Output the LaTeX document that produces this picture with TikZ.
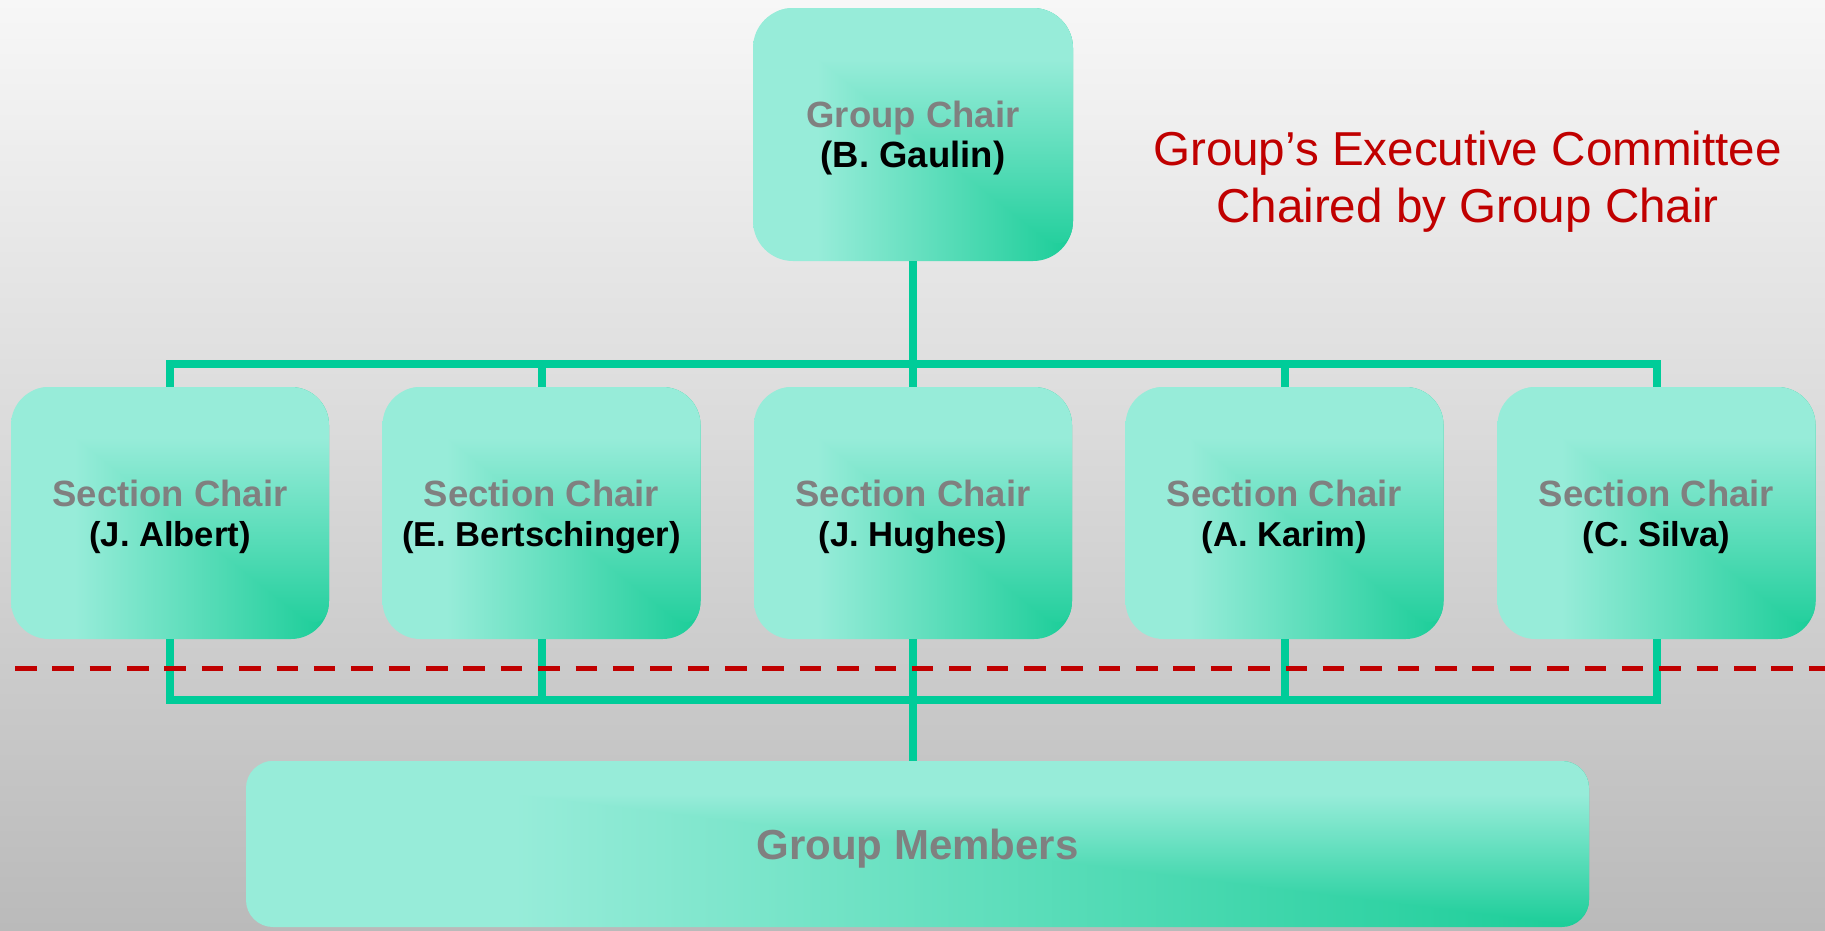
\documentclass[tikz,border=0pt]{standalone}
\usepackage{fontspec}
\setmainfont{Liberation Sans}
\definecolor{mintlight}{HTML}{97ECD9}
\definecolor{mintdark}{HTML}{1ACD98}
\definecolor{conngreen}{HTML}{00CC99}
\definecolor{redtxt}{HTML}{C00000}
\definecolor{graytxt}{HTML}{808080}
\definecolor{bgtop}{HTML}{F7F7F7}
\definecolor{bgbot}{HTML}{BABABA}
\pgfdeclarehorizontalshading{mintH}{100bp}{color(0bp)=(mintlight); color(35bp)=(mintlight); color(75bp)=(mintdark); color(100bp)=(mintdark)}
\pgfdeclareverticalshading{mintV}{100bp}{color(0bp)=(mintdark); color(25bp)=(mintdark); color(65bp)=(mintlight); color(100bp)=(mintlight)}
\newcommand{\secname}[1]{{\fontsize{34.6}{40}\selectfont #1}}
\tikzset{
  mintbox/.style={rectangle, draw=none, inner sep=0pt, align=center,
    font=\fontsize{36.5}{40}\selectfont\bfseries, text depth=0pt,
    path picture={
      \shade[shading=mintH] (path picture bounding box.south west) rectangle (path picture bounding box.north east);
      \shade[shading=mintV] (path picture bounding box.south east) -- (path picture bounding box.north east) -- (path picture bounding box.north west) -- cycle;
    }},
  secbox/.style={mintbox, minimum width=318pt, minimum height=252pt, rounded corners=38pt},
  topbox/.style={mintbox, minimum width=320pt, minimum height=253pt, rounded corners=40pt},
  membox/.style={mintbox, minimum width=1343pt, minimum height=166pt, rounded corners=27pt,
    font=\fontsize{42}{46}\selectfont\bfseries},
  connline/.style={draw=conngreen, line width=8pt},
  reddash/.style={draw=redtxt, line width=5pt, dash pattern=on 21.5pt off 15.87pt},
  redtext/.style={text=redtxt, align=center, inner sep=0pt, text depth=0pt, font=\fontsize{47.6}{57}\selectfont}
}
\begin{document}
\begin{tikzpicture}[x=1pt,y=-1pt]
\useasboundingbox (0,0) rectangle (1825,930);
\shade[top color=bgtop, bottom color=bgbot] (0,0) rectangle (1825,930);

\node[topbox] (gc) at (913,134.5) {\textcolor{graytxt}{Group Chair}\\(B. Gaulin)};
\node[secbox] (s1) at (170,513) {\textcolor{graytxt}{Section Chair}\\\secname{(J. Albert)}};
\node[secbox] (s2) at (541.5,513) {\textcolor{graytxt}{Section Chair}\\\secname{(E. Bertschinger)}};
\node[secbox] (s3) at (913,513) {\textcolor{graytxt}{Section Chair}\\\secname{(J. Hughes)}};
\node[secbox] (s4) at (1284.5,513) {\textcolor{graytxt}{Section Chair}\\\secname{(A. Karim)}};
\node[secbox] (s5) at (1656.5,513) {\textcolor{graytxt}{Section Chair}\\\secname{(C. Silva)}};
\node[membox] (gm) at (917.5,844) {\textcolor{graytxt}{Group Members}};

\node[redtext, anchor=south] (exec) at (1467.5,223) {Group’s Executive Committee\\Chaired by Group Chair};

\coordinate (bus) at (913,364);
\coordinate (bot) at (913,700);
\draw[connline] (s1.north) -- (s1.north |- bus) -- (s5.north |- bus) -- (s5.north);
\draw[connline] (s2.north) -- (s2.north |- bus);
\draw[connline] (s4.north) -- (s4.north |- bus);
\draw[connline] (gc.south) -- (s3.north);
\draw[connline] (s1.south) -- (s1.south |- bot) -- (s5.south |- bot) -- (s5.south);
\draw[connline] (s2.south) -- (s2.south |- bot);
\draw[connline] (s4.south) -- (s4.south |- bot);
\draw[connline] (s3.south) -- (s3.south |- gm.north);

\coordinate (dl) at (15,668);
\coordinate (dr) at (1825,668);
\draw[reddash] (dl) -- (dr);
\end{tikzpicture}
\end{document}
